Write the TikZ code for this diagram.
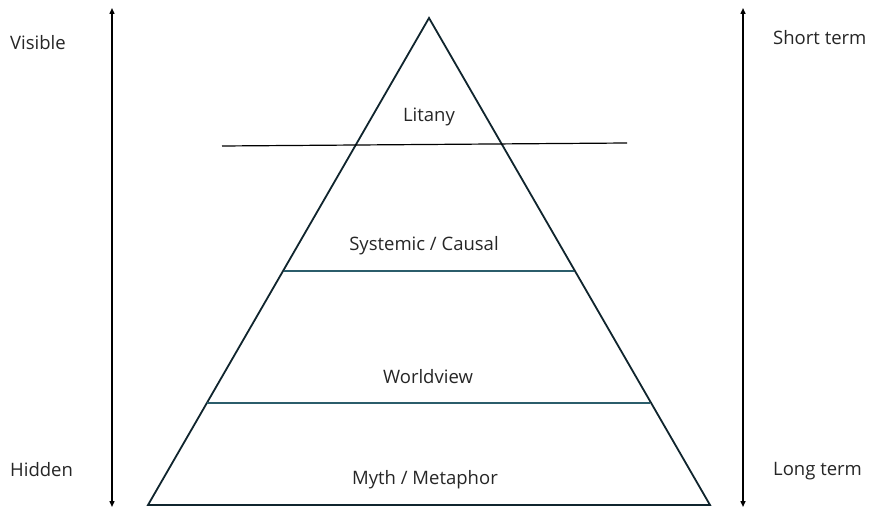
\documentclass[tikz,border=0pt]{standalone}
\usepackage{fontspec}
\setmainfont{Open Sans}
\usetikzlibrary{arrows.meta}
\definecolor{tri}{HTML}{10252E}
\definecolor{lvl}{HTML}{2B5D6B}
\tikzset{
  lbl/.style={font=\fontsize{18.5}{22}\selectfont, text=black!85, inner sep=0pt},
  axis/.style={line width=1.4pt, {Triangle[length=6pt,width=5pt]}-{Triangle[length=6pt,width=5pt]}},
}
\begin{document}
\begin{tikzpicture}[x=1pt,y=-1pt]
\useasboundingbox[fill=white] (0,0) rectangle (870,508);
% triangle
\coordinate (apex) at (429,18);
\coordinate (bl) at (148,505);
\coordinate (br) at (710,505);
\draw[tri, line width=1.8pt, line join=miter] (apex) -- (br) -- (bl) -- cycle;
% level lines
\coordinate (l1a) at (222,146); \coordinate (l1b) at (627,143);
\draw[black, line width=1.2pt] (l1a) -- (l1b);
\coordinate (l2a) at (284,271); \coordinate (l2b) at (574,271);
\draw[lvl, line width=1.2pt] (l2a) -- (l2b);
\coordinate (l3a) at (207,403); \coordinate (l3b) at (650,403);
\draw[lvl, line width=1.2pt] (l3a) -- (l3b);
% axes
\coordinate (at) at (112,8); \coordinate (ab) at (112,507);
\draw[axis] (ab) -- (at);
\coordinate (bt) at (743,8); \coordinate (bb) at (743,507);
\draw[axis] (bb) -- (bt);
% labels
\node[lbl] (litany) at (429,117) {Litany};
\node[lbl] (sys) at (424,246) {Systemic / Causal};
\node[lbl] (wv) at (428,377) {Worldview};
\node[lbl] (myth) at (425,480) {Myth / Metaphor};
\node[lbl, anchor=west] (vis) at (10,43) {Visible};
\node[lbl, anchor=west] (hid) at (10,470) {Hidden};
\node[lbl, anchor=west] (st) at (773,38) {Short term};
\node[lbl, anchor=west] (lt) at (773,471) {Long term};
\end{tikzpicture}
\end{document}
